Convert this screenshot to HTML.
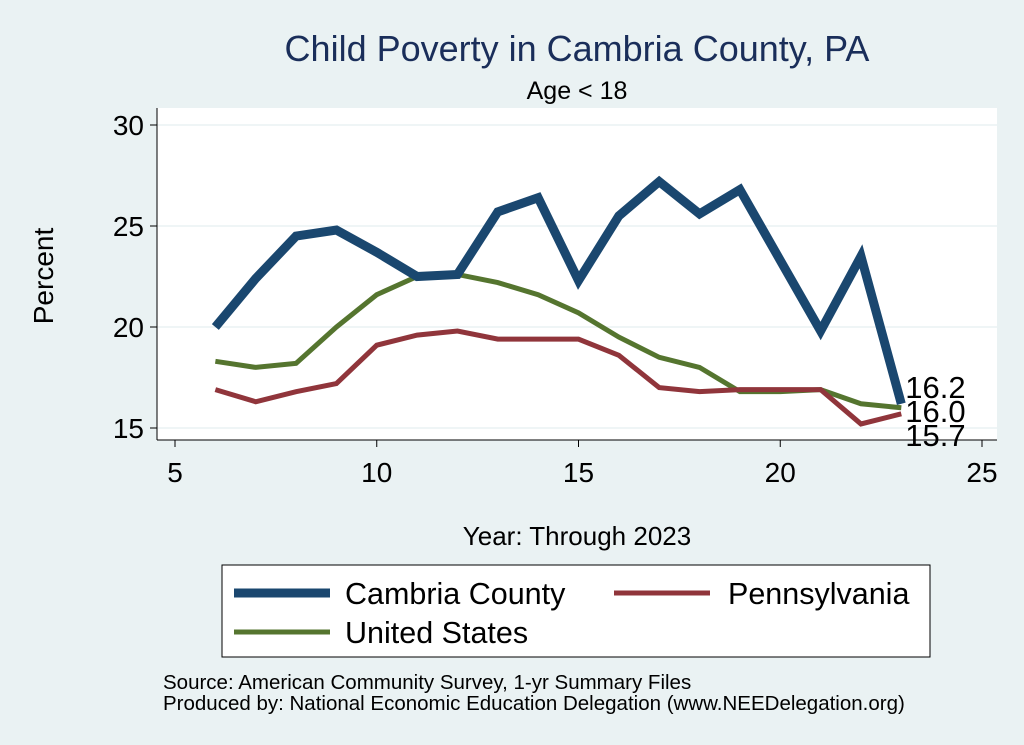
<!DOCTYPE html>
<html><head><meta charset="utf-8"><style>
body{margin:0;background:#eaf2f3;font-family:"Liberation Sans",sans-serif;}
svg{display:block}
</style></head><body>
<svg width="1024" height="745" xmlns="http://www.w3.org/2000/svg">
<rect width="1024" height="745" fill="#eaf2f3"/>
<rect x="157" y="108" width="840" height="332" fill="#fff"/>
<text x="577" y="61" font-size="36" fill="#1a2e5a" text-anchor="middle">Child Poverty in Cambria County, PA</text>
<text x="577" y="99" font-size="25" text-anchor="middle">Age &lt; 18</text>
<g id="grid"></g><g id="axes"></g><g id="series"></g>
<text x="53" y="276" font-size="28" text-anchor="middle" transform="rotate(-90 53 276)">Percent</text>
<text x="577" y="545" font-size="26" text-anchor="middle">Year: Through 2023</text>
<g>
<rect x="222" y="565" width="708" height="92" fill="#fff" stroke="#000" stroke-width="1"/>
<g><line x1="234" y1="593" x2="330" y2="593" stroke="#1a476f" stroke-width="9"/><text x="345" y="604" font-size="30.5">Cambria County</text></g>
<g><line x1="614" y1="593" x2="710" y2="593" stroke="#90353b" stroke-width="5"/><text x="728" y="604" font-size="30.5">Pennsylvania</text></g>
<g><line x1="234" y1="632" x2="330" y2="632" stroke="#55752f" stroke-width="5"/><text x="345" y="643" font-size="30.5">United States</text></g>
</g>
<text x="163" y="689" font-size="20.5">Source: American Community Survey, 1-yr Summary Files</text>
<text x="163" y="710" font-size="20.5">Produced by: National Economic Education Delegation (www.NEEDelegation.org)</text>
</svg>
<script>
const years=[6,7,8,9,10,11,12,13,14,15,16,17,18,19,20,21,22,23];
const cambria=[20.0,22.4,24.5,24.8,23.7,22.5,22.6,25.7,26.4,22.3,25.5,27.2,25.6,26.8,23.3,19.8,23.5,16.2];
const pennsylvania=[16.9,16.3,16.8,17.2,19.1,19.6,19.8,19.4,19.4,19.4,18.6,17.0,16.8,16.9,16.9,16.9,15.2,15.7];
const unitedStates=[18.3,18.0,18.2,20.0,21.6,22.5,22.6,22.2,21.6,20.7,19.5,18.5,18.0,16.8,16.8,16.9,16.2,16.0];
const xTicks=[5,10,15,20,25];
const yTicks=[15,20,25,30];
const NS="http://www.w3.org/2000/svg";
const X=v=>175+(v-5)*(982-175)/20;
const Y=v=>428-(v-15)*(428-125)/15;
function mk(tag,attrs,parent){const e=document.createElementNS(NS,tag);for(const k in attrs)e.setAttribute(k,attrs[k]);document.getElementById(parent).appendChild(e);return e;}
yTicks.forEach(t=>{
 const g=mk('line',{x1:157,x2:997,y1:Y(t),y2:Y(t),stroke:'#eaf2f3','stroke-width':1.5},'grid');
 
 
 const tk=mk('line',{x1:150,x2:157,y1:Y(t),y2:Y(t),stroke:'#000'},'axes');
 
 
 const l=mk('text',{x:144,y:Y(t)+10,'font-size':28,'text-anchor':'end'},'axes');l.textContent=t;
 
 
});
xTicks.forEach(t=>{
 const tk=mk('line',{x1:X(t),x2:X(t),y1:440,y2:447,stroke:'#000'},'axes');
 
 
 const l=mk('text',{x:X(t),y:482,'font-size':28,'text-anchor':'middle'},'axes');l.textContent=t;
 
 
});
const ya=mk('line',{x1:157,x2:157,y1:108,y2:440,stroke:'#000'},'axes');


const xa=mk('line',{x1:157,x2:997,y1:440,y2:440,stroke:'#000'},'axes');


function line(vals,color,w,name){
 const p=mk('polyline',{points:vals.map((v,i)=>X(years[i])+','+Y(v)).join(' '),fill:'none',stroke:color,'stroke-width':w,'stroke-linejoin':'miter'},'series');
 
 
}
line(unitedStates,'#55752f',5,'line-united-states');
line(pennsylvania,'#90353b',5,'line-pennsylvania');
line(cambria,'#1a476f',9,'line-cambria');
const n=years.length-1;
const ends=[cambria[n],unitedStates[n],pennsylvania[n]];
const offs=[-6,14,32];
ends.forEach((v,i)=>{
 const t=mk('text',{x:X(years[n])+4,y:Y(v)+offs[i],'font-size':31},'series');
 t.textContent=v.toFixed(1);
 
 
});
</script>
</body></html>
